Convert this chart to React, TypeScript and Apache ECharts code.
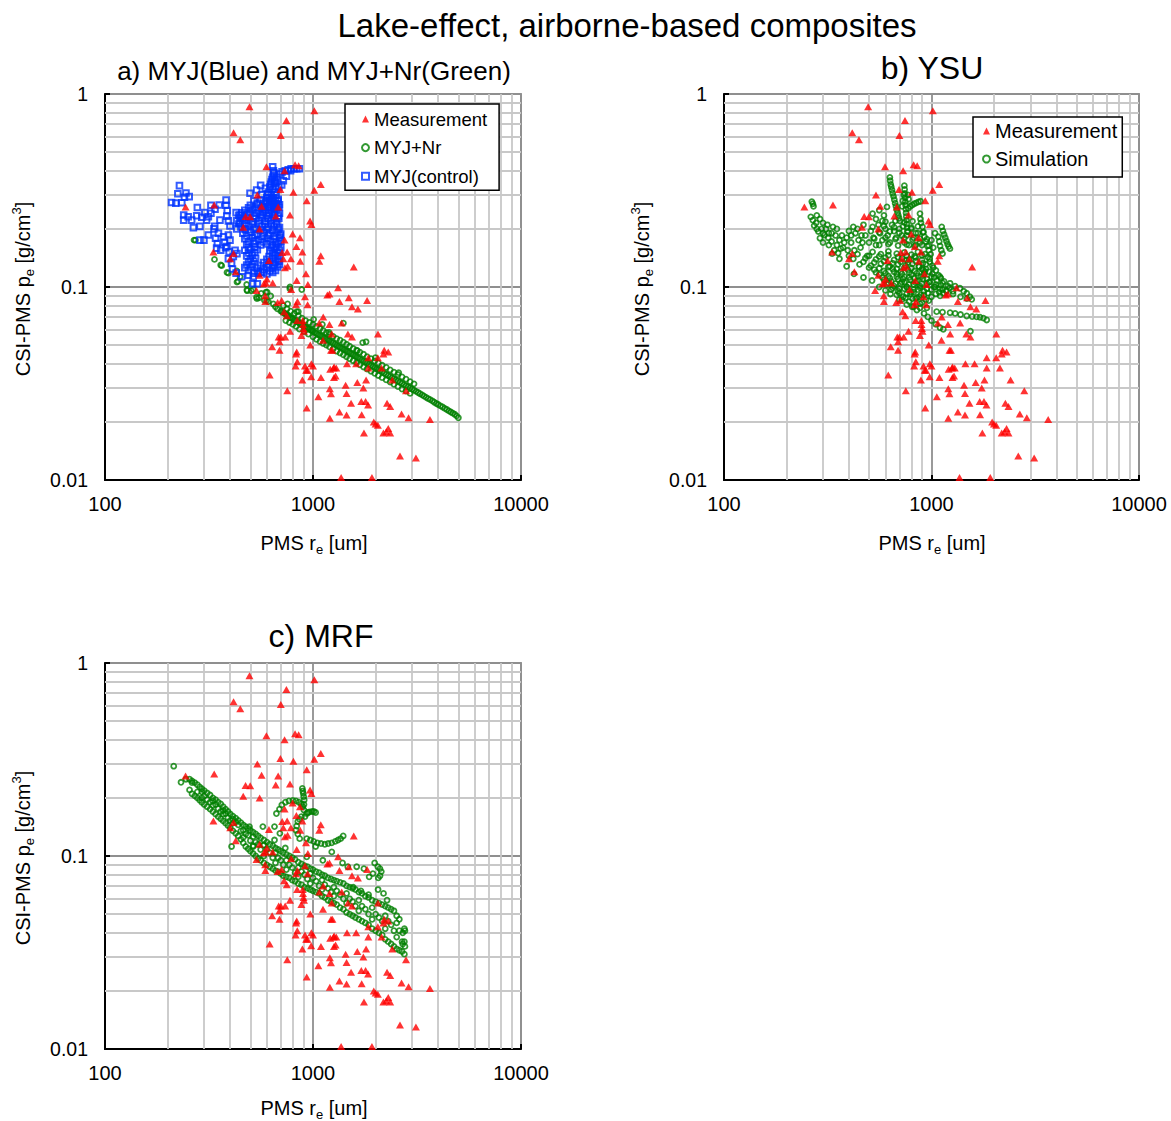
import React, { useEffect, useRef } from "react";
import * as echarts from "echarts";

const FONT = '"Liberation Sans", Arial, Helvetica, sans-serif';

// axis ticks / gridlines
const xMajor = [100, 1000, 10000];
const yMajor = [0.01, 0.1, 1];
const minorX = [200, 300, 400, 500, 600, 700, 800, 900, 2000, 3000, 4000, 5000, 6000, 7000, 8000, 9000];
const minorY = [0.02, 0.03, 0.04, 0.05, 0.06, 0.07, 0.08, 0.09, 0.2, 0.3, 0.4, 0.5, 0.6, 0.7, 0.8, 0.9];

// Measurement (same in all three panels)  [PMS re (um), CSI-PMS pe (g/cm3)]
const measurement: [number, number][] = [
  [495, 0.86], [1015, 0.82], [745, 0.73], [415, 0.63], [447, 0.58], [700, 0.61],
  [597, 0.42], [820, 0.43], [853, 0.425], [730, 0.4], [1090, 0.34], [697, 0.32], [805, 0.31], [1014, 0.317],
  [540, 0.3], [335, 0.266], [244, 0.26], [566, 0.262], [933, 0.28], [680, 0.26],
  [474, 0.232], [499, 0.231], [662, 0.233], [775, 0.236], [462, 0.204], [554, 0.2], [968, 0.22], [983, 0.211],
  [798, 0.188], [730, 0.175], [866, 0.18], [332, 0.152], [832, 0.162], [711, 0.151], [751, 0.152], [889, 0.152],
  [415, 0.149], [400, 0.14], [614, 0.137], [720, 0.14], [783, 0.14], [868, 0.136], [1090, 0.145], [1072, 0.136],
  [1570, 0.127], [733, 0.126], [755, 0.128], [554, 0.115], [925, 0.117], [425, 0.12], [600, 0.11], [835, 0.108],
  [945, 0.103], [594, 0.105], [640, 0.105], [580, 0.104], [785, 0.097], [535, 0.096], [589, 0.09], [590, 0.084],
  [1320, 0.099], [1172, 0.091], [1200, 0.092], [1486, 0.088], [1820, 0.085], [1340, 0.084], [1540, 0.079], [1644, 0.077],
  [829, 0.081], [942, 0.081], [676, 0.083], [707, 0.085], [915, 0.089], [842, 0.084],
  [726, 0.0745], [748, 0.071], [839, 0.067], [893, 0.067], [895, 0.064], [900, 0.061], [905, 0.059], [1120, 0.07], [1200, 0.064],
  [1072, 0.065], [1374, 0.065], [1230, 0.057], [1472, 0.057], [1540, 0.055], [2053, 0.057], [1117, 0.053],
  [775, 0.059], [684, 0.055], [700, 0.055], [735, 0.055], [690, 0.052], [879, 0.056],
  [636, 0.049], [690, 0.047], [970, 0.05], [1221, 0.047], [1240, 0.047],
  [829, 0.045], [835, 0.046], [840, 0.041], [825, 0.039], [915, 0.039], [927, 0.037], [940, 0.037], [982, 0.04], [1000, 0.039],
  [2180, 0.045], [2200, 0.047], [2300, 0.046], [2050, 0.043], [1845, 0.043], [1613, 0.04], [1457, 0.04], [1294, 0.038], [1255, 0.038], [1264, 0.0385],
  [1845, 0.038], [2137, 0.038], [889, 0.033], [980, 0.0343], [619, 0.035], [1092, 0.034], [1210, 0.0375], [1262, 0.034], [1284, 0.0346], [1800, 0.033], [2405, 0.033],
  [752, 0.029], [1205, 0.0297], [1435, 0.031], [1450, 0.0281], [1633, 0.032], [1746, 0.03], [2800, 0.029], [1220, 0.028],
  [1061, 0.027], [933, 0.0236], [1524, 0.025], [1707, 0.0255], [1790, 0.0255], [1840, 0.0245], [2270, 0.025], [2350, 0.024],
  [1340, 0.0225], [1450, 0.0217], [1714, 0.0218], [1205, 0.0209], [2665, 0.022], [2880, 0.021], [3650, 0.0206],
  [1960, 0.02], [2000, 0.0195], [2050, 0.0192], [2300, 0.0185], [2180, 0.0175], [2250, 0.0178], [2350, 0.0175], [1758, 0.0175],
  [2620, 0.0133], [3125, 0.013], [1365, 0.0103], [1920, 0.0103],
];

// Panel a: MYJ+Nr (green) — scattered upper part and outliers
const myjNrScatter: [number, number][] = [
  [268, 0.175], [272, 0.175], [336, 0.139], [360, 0.13], [364, 0.129], [386, 0.119], [392, 0.118], [430, 0.121], [446, 0.113],
  [431, 0.106], [436, 0.107], [480, 0.103], [481, 0.0965], [483, 0.0957], [505, 0.0957], [516, 0.0973], [535, 0.0885],
  [538, 0.087], [550, 0.088], [564, 0.0927], [584, 0.0853], [594, 0.094], [598, 0.085], [602, 0.094], [610, 0.084],
  [626, 0.0898], [645, 0.0817], [660, 0.079], [675, 0.077], [755, 0.0817], [775, 0.1], [774, 0.098], [883, 0.097], [835, 0.0745], [850, 0.0745],
  [1007, 0.068], [1109, 0.064], [1194, 0.0582], [1400, 0.065], [1733, 0.0515], [1800, 0.052], [1633, 0.0468], [1995, 0.043], [2583, 0.036],
];
// Panel a: MYJ+Nr (green) — main band
const myjNrBand: [number, number][] = [
  [700, 0.075], [720, 0.0737], [740, 0.0722], [760, 0.071], [780, 0.0695], [800, 0.0685], [830, 0.0667], [860, 0.065], [890, 0.0635],
  [920, 0.0622], [950, 0.061], [980, 0.0598], [1000, 0.059], [1040, 0.0575], [1080, 0.0562], [1120, 0.055], [1160, 0.0538], [1200, 0.0527],
  [1250, 0.0513], [1300, 0.05], [1350, 0.0488], [1400, 0.0477], [1450, 0.0467], [1500, 0.0457], [1560, 0.0446], [1620, 0.0435],
  [1680, 0.0425], [1750, 0.0414], [1820, 0.0404], [1900, 0.0393], [1980, 0.0383], [2060, 0.0374], [2150, 0.0364], [2250, 0.0353],
  [2350, 0.0344], [2450, 0.0335], [2560, 0.0326], [2680, 0.0317], [2800, 0.0308], [2930, 0.03], [3060, 0.0292], [3200, 0.0284],
  [3350, 0.0276], [3500, 0.0268], [3660, 0.0261], [3830, 0.0253], [4000, 0.0246], [4200, 0.0239], [4400, 0.0232], [4600, 0.0225],
  [4800, 0.0219], [5000, 0.021],
  [710, 0.0745], [730, 0.073], [750, 0.0716], [770, 0.0702], [790, 0.069], [815, 0.0676], [845, 0.0658], [875, 0.0642], [905, 0.0628],
  [935, 0.0616], [965, 0.0604], [990, 0.0594], [1020, 0.0582], [1060, 0.0568], [1100, 0.0556], [1140, 0.0544], [1180, 0.0532],
  [1225, 0.052], [1275, 0.0506], [1325, 0.0494], [1375, 0.0482], [1425, 0.0472], [1475, 0.0462], [1530, 0.0451], [1590, 0.044],
  [1650, 0.043], [1715, 0.0419], [1785, 0.0409], [1860, 0.0398], [1940, 0.0388], [2020, 0.0378], [2100, 0.0369], [2200, 0.0358],
  [2300, 0.0348], [2400, 0.0339], [2500, 0.033], [2620, 0.0321], [2740, 0.0312], [2860, 0.0304], [3000, 0.0296], [3130, 0.0288],
  [3270, 0.028], [3420, 0.0272], [3580, 0.0264], [3750, 0.0257], [3920, 0.0249], [4100, 0.0242], [4300, 0.0235], [4500, 0.0228],
  [4700, 0.0222], [4900, 0.0215],
  [720, 0.08], [780, 0.075], [850, 0.071], [920, 0.067], [1000, 0.064], [1080, 0.061], [1160, 0.058], [1250, 0.0555], [1350, 0.053],
  [1450, 0.0505], [1560, 0.048], [1680, 0.046], [1820, 0.0436], [1980, 0.0414], [2150, 0.0393], [2350, 0.0372], [2560, 0.0352],
  [2800, 0.0333], [3060, 0.0315],
  [750, 0.077], [815, 0.073], [885, 0.069], [960, 0.0655], [1040, 0.0625], [1120, 0.0595], [1200, 0.057], [1300, 0.054], [1400, 0.0518],
  [1500, 0.0493], [1620, 0.047], [1750, 0.0448], [1900, 0.0425], [2060, 0.0404], [2250, 0.0383], [2450, 0.0362], [2680, 0.0342], [2930, 0.0323],
  [740, 0.067], [800, 0.064], [860, 0.0605], [950, 0.057], [1040, 0.0535], [1120, 0.051], [1200, 0.049], [1300, 0.0465], [1400, 0.0445],
  [1500, 0.0425], [1620, 0.0405], [1750, 0.0385], [1900, 0.0366], [2060, 0.0348], [2250, 0.033], [2450, 0.0313], [2680, 0.0296], [2930, 0.0281],
  [770, 0.0655], [830, 0.0625], [905, 0.0588], [1000, 0.0552], [1080, 0.0522], [1160, 0.05], [1250, 0.0477], [1350, 0.0455], [1450, 0.0435],
  [1560, 0.0415], [1680, 0.0395], [1820, 0.0376], [1980, 0.0357], [2150, 0.0339], [2350, 0.0322], [2560, 0.0305], [2800, 0.0289],
];

// Panel a: MYJ(control) (blue) — left tail, spike and hook
const myjControlOuter: [number, number][] = [
  [209, 0.274], [219, 0.272], [228, 0.335], [224, 0.304], [234, 0.273], [241, 0.292], [245, 0.307], [254, 0.294], [239, 0.236],
  [251, 0.231], [239, 0.222], [261, 0.222], [266, 0.203], [278, 0.258], [276, 0.234], [292, 0.23], [286, 0.206], [302, 0.243],
  [314, 0.231], [323, 0.265], [338, 0.253], [354, 0.266], [323, 0.241], [308, 0.222], [337, 0.206], [357, 0.222], [382, 0.282],
  [382, 0.265], [387, 0.249], [385, 0.233], [392, 0.22], [399, 0.207], [427, 0.243], [446, 0.236], [286, 0.175], [299, 0.175],
  [314, 0.186], [334, 0.2], [351, 0.19], [340, 0.179], [347, 0.168], [344, 0.159], [360, 0.155], [392, 0.186], [399, 0.175],
  [385, 0.162], [422, 0.155], [431, 0.149], [414, 0.144], [406, 0.133], [410, 0.124], [427, 0.118], [454, 0.113], [489, 0.115],
  [516, 0.113], [546, 0.118], [577, 0.119], [513, 0.104], [540, 0.104], [371, 0.182], [376, 0.17], [380, 0.16], [395, 0.152],
  [392, 0.14], [460, 0.225], [445, 0.215], [470, 0.2], [430, 0.2],
  [640, 0.42], [645, 0.4], [650, 0.38], [640, 0.37], [655, 0.36], [630, 0.35], [650, 0.345], [660, 0.33], [620, 0.33], [640, 0.32],
  [655, 0.31], [610, 0.31], [630, 0.3], [665, 0.3], [600, 0.29], [645, 0.29], [620, 0.28], [660, 0.28], [590, 0.275], [635, 0.27],
  [670, 0.27], [575, 0.26], [610, 0.26], [650, 0.26], [670, 0.37], [690, 0.385], [710, 0.395], [735, 0.4], [760, 0.405], [785, 0.41],
  [810, 0.41], [835, 0.41], [860, 0.41], [707, 0.338], [720, 0.355], [745, 0.375], [780, 0.4], [685, 0.33], [498, 0.306], [536, 0.318],
  [560, 0.336], [590, 0.325], [566, 0.3], [625, 0.34], [660, 0.35], [648, 0.39], [635, 0.36], [605, 0.3], [615, 0.29], [655, 0.27],
  [630, 0.285], [680, 0.285],
];
// Panel a: MYJ(control) (blue) — dense blob
const myjControlBlob: [number, number][] = [
  [520, 0.28], [560, 0.283], [600, 0.278], [640, 0.282], [680, 0.279],
  [540, 0.272], [580, 0.27], [620, 0.273], [660, 0.271],
  [500, 0.265], [540, 0.268], [580, 0.263], [620, 0.266], [660, 0.264], [690, 0.267],
  [490, 0.257], [530, 0.258], [570, 0.256], [610, 0.258], [650, 0.256], [685, 0.258],
  [470, 0.25], [510, 0.253], [550, 0.248], [590, 0.251], [630, 0.249], [670, 0.252],
  [455, 0.242], [495, 0.243], [535, 0.241], [575, 0.243], [615, 0.241], [655, 0.243], [690, 0.241],
  [440, 0.235], [480, 0.237], [520, 0.233], [560, 0.236], [600, 0.234], [640, 0.237], [680, 0.233],
  [450, 0.228], [490, 0.229], [530, 0.227], [570, 0.229], [610, 0.227], [650, 0.229], [685, 0.227],
  [430, 0.22], [470, 0.222], [510, 0.218], [550, 0.221], [590, 0.219], [630, 0.222], [665, 0.218],
  [440, 0.212], [470, 0.213], [510, 0.211], [550, 0.213], [590, 0.211], [630, 0.213], [670, 0.211],
  [450, 0.205], [490, 0.207], [530, 0.203], [570, 0.206], [610, 0.204], [650, 0.207], [690, 0.203],
  [475, 0.198], [520, 0.199], [560, 0.197], [600, 0.199], [640, 0.197], [680, 0.199],
  [460, 0.19], [500, 0.192], [540, 0.188], [580, 0.191], [620, 0.189], [670, 0.192], [700, 0.188],
  [480, 0.184], [525, 0.185], [570, 0.183], [610, 0.185], [650, 0.183], [695, 0.185],
  [470, 0.178], [510, 0.18], [550, 0.176], [600, 0.179], [650, 0.177], [690, 0.18],
  [490, 0.172], [530, 0.173], [575, 0.171], [625, 0.173], [665, 0.171], [700, 0.173],
  [480, 0.166], [520, 0.168], [560, 0.165], [600, 0.167], [640, 0.165], [680, 0.168],
  [490, 0.16], [525, 0.161], [630, 0.16], [665, 0.161], [700, 0.16],
  [470, 0.155], [500, 0.157], [540, 0.156], [620, 0.154], [650, 0.157], [690, 0.155],
  [490, 0.15], [525, 0.151], [640, 0.15], [675, 0.151],
  [480, 0.145], [510, 0.146], [615, 0.144], [660, 0.146], [690, 0.144],
  [500, 0.14], [530, 0.141], [600, 0.139], [640, 0.141], [675, 0.139],
  [490, 0.135], [520, 0.136], [580, 0.134], [620, 0.136], [660, 0.134], [685, 0.136],
  [480, 0.13], [510, 0.131], [560, 0.129], [610, 0.131], [650, 0.129], [690, 0.131],
  [470, 0.126], [500, 0.127], [540, 0.125], [600, 0.127], [640, 0.125], [675, 0.127],
  [490, 0.122], [540, 0.121], [580, 0.123], [620, 0.121], [660, 0.122],
  [520, 0.118], [560, 0.119], [600, 0.117], [640, 0.119],
];

// Panel b: YSU simulation (green) — outer streaks
const ysuStreaks: [number, number][] = [
  [265, 0.277], [268, 0.27], [270, 0.262], [262, 0.231], [268, 0.222], [272, 0.208], [278, 0.215], [285, 0.194], [290, 0.179], [295, 0.2],
  [300, 0.215], [310, 0.2], [305, 0.186], [318, 0.18], [320, 0.19], [320, 0.165], [335, 0.205], [330, 0.172], [345, 0.185], [350, 0.165],
  [360, 0.175], [365, 0.158], [375, 0.16], [390, 0.18], [400, 0.195], [410, 0.17], [420, 0.205], [425, 0.155], [430, 0.19], [440, 0.148],
  [445, 0.175], [455, 0.16], [470, 0.21], [480, 0.185], [490, 0.145], [500, 0.17], [510, 0.195], [525, 0.18], [540, 0.165], [555, 0.21],
  [565, 0.19], [580, 0.175], [600, 0.2], [615, 0.185], [630, 0.17], [645, 0.21], [660, 0.195], [675, 0.18], [700, 0.2], [720, 0.185],
  [740, 0.17], [760, 0.185], [780, 0.165], [800, 0.2], [820, 0.18], [840, 0.165], [860, 0.19], [880, 0.17], [1000, 0.175], [1040, 0.19], [1020, 0.16],
  [280, 0.2], [300, 0.19], [315, 0.21], [330, 0.19], [350, 0.2], [370, 0.185], [380, 0.17], [395, 0.155], [410, 0.185], [440, 0.2],
  [460, 0.185], [465, 0.17], [280, 0.235], [290, 0.225], [300, 0.17], [340, 0.155], [355, 0.15], [400, 0.145], [420, 0.14],
  [520, 0.24], [560, 0.25], [590, 0.235], [610, 0.26], [580, 0.22], [540, 0.225], [880, 0.24], [885, 0.225], [890, 0.215],
  [735, 0.3], [728, 0.28], [722, 0.262], [770, 0.3], [775, 0.285],
  [630, 0.37], [632, 0.355], [636, 0.34], [640, 0.33], [645, 0.318], [650, 0.306], [656, 0.295], [662, 0.283], [668, 0.272], [674, 0.262],
  [680, 0.252], [686, 0.243], [692, 0.235], [698, 0.227], [704, 0.22],
  [740, 0.335], [742, 0.32], [744, 0.305], [746, 0.29], [748, 0.277], [750, 0.265], [752, 0.253], [754, 0.242], [756, 0.232], [758, 0.222],
  [760, 0.212], [762, 0.203], [764, 0.194],
  [773, 0.256], [790, 0.262], [808, 0.266], [826, 0.27], [845, 0.273], [865, 0.276], [885, 0.278],
  [1120, 0.205], [1135, 0.195], [1150, 0.187], [1165, 0.18], [1180, 0.173], [1195, 0.167], [1210, 0.162], [1227, 0.158],
  [1079, 0.182], [1090, 0.172], [1100, 0.163], [1115, 0.155], [1130, 0.149],
  [905, 0.205], [915, 0.193], [925, 0.182], [940, 0.172], [955, 0.163], [970, 0.155], [990, 0.148],
  [332, 0.149], [360, 0.14], [390, 0.128], [423, 0.117], [470, 0.112], [517, 0.108], [560, 0.1], [600, 0.096], [634, 0.092], [700, 0.086],
  [807, 0.079], [850, 0.076],
  [1059, 0.0745], [1130, 0.074], [1229, 0.0736], [1300, 0.073], [1380, 0.072], [1478, 0.0708], [1570, 0.0703], [1650, 0.07], [1713, 0.0697],
  [1780, 0.069], [1845, 0.0675],
  [1229, 0.1045], [1300, 0.101], [1372, 0.0985], [1430, 0.095], [1478, 0.0928], [1530, 0.089], [1563, 0.0863],
  [759, 0.138], [913, 0.1225], [1099, 0.113], [1099, 0.098], [1180, 0.095], [1270, 0.092], [1380, 0.089], [1480, 0.087],
  [880, 0.078], [920, 0.073], [960, 0.07], [1000, 0.067], [1050, 0.064], [1100, 0.0615], [1140, 0.0604], [1540, 0.059],
];
// Panel b: YSU simulation (green) — dense core
const ysuCore: [number, number][] = [
  [600, 0.218], [670, 0.22], [740, 0.216], [810, 0.219],
  [520, 0.205], [590, 0.207], [660, 0.204], [730, 0.206], [800, 0.203], [860, 0.206],
  [560, 0.192], [630, 0.194], [700, 0.191], [770, 0.193], [840, 0.19], [910, 0.192],
  [530, 0.178], [600, 0.18], [670, 0.177], [740, 0.179], [810, 0.176], [880, 0.178], [950, 0.177],
  [560, 0.165], [620, 0.167], [690, 0.164], [760, 0.166], [830, 0.163], [900, 0.165], [970, 0.164],
  [520, 0.152], [570, 0.148], [620, 0.153], [680, 0.149], [740, 0.151], [800, 0.147], [860, 0.152], [930, 0.148],
  [500, 0.145], [560, 0.144], [620, 0.146], [690, 0.143], [760, 0.145], [830, 0.144], [900, 0.146], [960, 0.143],
  [480, 0.141], [540, 0.139], [600, 0.142], [660, 0.138], [720, 0.141], [780, 0.139], [840, 0.142], [900, 0.138], [980, 0.14],
  [470, 0.135], [530, 0.134], [590, 0.136], [650, 0.133], [710, 0.135], [770, 0.134], [840, 0.136], [910, 0.133], [980, 0.135],
  [450, 0.131], [510, 0.129], [570, 0.132], [630, 0.128], [690, 0.131], [750, 0.129], [810, 0.132], [870, 0.128], [940, 0.131], [1010, 0.129],
  [500, 0.126], [560, 0.125], [620, 0.127], [680, 0.124], [740, 0.126], [800, 0.125], [870, 0.127], [940, 0.124], [1020, 0.126],
  [530, 0.123], [590, 0.121], [650, 0.124], [710, 0.12], [770, 0.123], [830, 0.121], [900, 0.124], [970, 0.12], [1050, 0.122],
  [540, 0.119], [600, 0.118], [660, 0.12], [720, 0.117], [780, 0.119], [850, 0.118], [930, 0.12], [1010, 0.117],
  [560, 0.116], [620, 0.114], [680, 0.117], [740, 0.113], [800, 0.116], [860, 0.114], [920, 0.117], [1000, 0.113], [1080, 0.115],
  [580, 0.112], [630, 0.111], [680, 0.113], [730, 0.11], [780, 0.112], [830, 0.111], [890, 0.113], [950, 0.11], [1030, 0.112], [1110, 0.111],
  [590, 0.109], [640, 0.107], [690, 0.11], [740, 0.106], [790, 0.109], [850, 0.107], [910, 0.11], [980, 0.106], [1060, 0.108], [1150, 0.107],
  [620, 0.105], [670, 0.104], [720, 0.106], [780, 0.103], [840, 0.105], [900, 0.104], [970, 0.106], [1050, 0.103], [1130, 0.105],
  [610, 0.103], [660, 0.101], [710, 0.104], [760, 0.1], [820, 0.103], [880, 0.101], [950, 0.104], [1030, 0.1], [1110, 0.102], [1200, 0.101],
  [650, 0.099], [700, 0.098], [760, 0.1], [820, 0.097], [880, 0.099], [950, 0.098], [1040, 0.1], [1130, 0.097], [1220, 0.099],
  [640, 0.097], [690, 0.095], [740, 0.098], [800, 0.094], [860, 0.097], [920, 0.095], [1000, 0.097], [1090, 0.094], [1180, 0.096], [1270, 0.095],
  [700, 0.093], [760, 0.092], [820, 0.094], [890, 0.091], [960, 0.093], [1050, 0.092], [1140, 0.093],
  [680, 0.091], [730, 0.089], [790, 0.092], [850, 0.088], [920, 0.091], [1000, 0.089], [1100, 0.09],
  [750, 0.088], [810, 0.087], [870, 0.089], [940, 0.086],
  [720, 0.086], [780, 0.084], [840, 0.087], [900, 0.083], [970, 0.085],
  [760, 0.081], [820, 0.079], [880, 0.082], [950, 0.078],
];

// Panel c: MRF simulation (green) — main band
const mrfBand: [number, number][] = [
  [255, 0.25], [270, 0.24], [285, 0.228], [300, 0.218], [320, 0.207], [340, 0.196], [360, 0.186], [380, 0.175], [400, 0.165], [425, 0.157],
  [450, 0.149], [475, 0.142], [500, 0.136], [530, 0.13], [560, 0.124], [600, 0.118], [640, 0.113], [680, 0.108], [720, 0.104], [770, 0.1],
  [820, 0.096], [880, 0.091], [940, 0.088], [1000, 0.085], [1070, 0.082], [1140, 0.079], [1220, 0.076], [1300, 0.074], [1400, 0.072],
  [1500, 0.069], [1600, 0.067], [1720, 0.064], [1850, 0.061], [2000, 0.058], [2150, 0.056], [2300, 0.054], [2450, 0.052], [2600, 0.047], [2750, 0.042],
  [262, 0.245], [278, 0.234], [292, 0.223], [310, 0.212], [330, 0.2], [350, 0.19], [370, 0.18], [390, 0.17], [412, 0.161], [437, 0.153],
  [462, 0.145], [488, 0.139], [515, 0.133], [545, 0.127], [580, 0.121], [620, 0.115], [660, 0.11], [700, 0.106], [745, 0.102], [795, 0.098],
  [850, 0.093], [910, 0.089], [970, 0.086], [1035, 0.083], [1105, 0.08], [1180, 0.077], [1260, 0.075], [1350, 0.073], [1450, 0.07],
  [1550, 0.068], [1660, 0.065], [1785, 0.062], [1925, 0.059], [2075, 0.057], [2225, 0.055], [2375, 0.053], [2525, 0.049],
  [262, 0.24], [292, 0.215], [330, 0.193], [370, 0.172], [412, 0.155], [462, 0.136], [515, 0.126], [580, 0.114], [660, 0.104], [745, 0.095],
  [850, 0.087], [970, 0.081], [1105, 0.075], [1260, 0.069], [1450, 0.064], [1660, 0.059], [1925, 0.054], [2225, 0.049], [2525, 0.045], [2700, 0.04],
  [300, 0.205], [340, 0.185], [380, 0.166], [425, 0.15], [475, 0.13], [530, 0.118], [600, 0.108], [680, 0.098], [770, 0.09], [880, 0.083],
  [1000, 0.077], [1140, 0.071], [1300, 0.066], [1500, 0.06], [1720, 0.055], [2000, 0.05], [2300, 0.046], [2600, 0.041],
  [278, 0.215], [310, 0.196], [350, 0.176], [390, 0.158], [437, 0.145], [488, 0.128], [545, 0.115], [620, 0.104], [700, 0.095], [795, 0.087],
  [910, 0.08], [1035, 0.074], [1180, 0.068], [1350, 0.063], [1550, 0.058], [1785, 0.053], [2075, 0.048], [2375, 0.044], [2680, 0.036],
  [320, 0.19], [360, 0.17], [400, 0.153], [450, 0.135], [500, 0.12], [560, 0.108], [640, 0.098], [720, 0.09], [820, 0.082], [940, 0.076],
  [1070, 0.07], [1220, 0.065], [1400, 0.06], [1600, 0.055], [1850, 0.05], [2150, 0.046], [2450, 0.041], [2750, 0.036],
  [292, 0.2], [330, 0.183], [370, 0.165], [412, 0.148], [462, 0.125], [515, 0.113], [580, 0.1], [660, 0.092], [745, 0.085], [850, 0.078],
  [970, 0.072], [1105, 0.067], [1260, 0.062], [1450, 0.057], [1660, 0.052], [1925, 0.047], [2225, 0.042], [2525, 0.038], [2700, 0.035],
  [262, 0.21], [278, 0.2], [292, 0.19], [310, 0.18], [330, 0.17], [350, 0.16], [370, 0.152], [390, 0.144], [412, 0.135], [437, 0.127],
  [462, 0.117], [488, 0.109], [515, 0.103], [545, 0.097], [580, 0.092], [620, 0.088], [660, 0.084], [700, 0.081], [745, 0.078], [795, 0.075],
  [850, 0.072], [910, 0.069], [970, 0.067], [1035, 0.065], [1105, 0.062], [1180, 0.059], [1260, 0.057], [1350, 0.054], [1450, 0.051],
  [1550, 0.049], [1660, 0.047], [1785, 0.045], [1925, 0.042], [2075, 0.04], [2225, 0.037], [2375, 0.035], [2525, 0.033], [2680, 0.032],
  [255, 0.22], [270, 0.205], [285, 0.195], [300, 0.185], [320, 0.175], [340, 0.165], [360, 0.156], [380, 0.148], [400, 0.14], [425, 0.131],
  [450, 0.122], [475, 0.112], [500, 0.106], [530, 0.1], [560, 0.095], [600, 0.09], [640, 0.086], [680, 0.083], [720, 0.079], [770, 0.077],
  [820, 0.074], [880, 0.071], [940, 0.068], [1000, 0.066], [1070, 0.064], [1140, 0.061], [1220, 0.058], [1300, 0.056], [1400, 0.053],
  [1500, 0.05], [1600, 0.048], [1720, 0.046], [1850, 0.044], [2000, 0.041], [2150, 0.039], [2300, 0.036], [2450, 0.034], [2600, 0.0325], [2750, 0.031],
];
// Panel c: MRF simulation (green) — loops, hooks and scatter
const mrfScatter: [number, number][] = [
  [667, 0.166], [708, 0.184], [766, 0.193], [828, 0.193], [879, 0.186], [904, 0.173], [879, 0.16], [845, 0.151], [828, 0.136], [863, 0.123],
  [737, 0.19], [690, 0.175], [800, 0.194], [855, 0.19], [893, 0.18], [862, 0.155], [835, 0.143], [845, 0.13],
  [889, 0.224], [893, 0.217], [898, 0.211], [902, 0.203], [907, 0.195], [905, 0.185],
  [933, 0.166], [960, 0.169], [990, 0.17], [1030, 0.168], [915, 0.16], [945, 0.168], [1010, 0.17],
  [933, 0.123], [1008, 0.119], [1093, 0.116], [1183, 0.116], [1279, 0.119], [1358, 0.123], [1397, 0.127], [970, 0.121], [1050, 0.117],
  [1140, 0.115], [1230, 0.117], [1320, 0.121],
  [495, 0.142], [574, 0.142], [653, 0.142], [693, 0.131], [653, 0.121], [581, 0.114], [516, 0.112], [406, 0.112], [736, 0.11], [933, 0.099],
  [1030, 0.112], [1115, 0.095], [1231, 0.105], [1387, 0.092], [1470, 0.088], [1622, 0.088], [1757, 0.086], [1941, 0.081], [1979, 0.092],
  [2050, 0.088], [2098, 0.086], [2130, 0.083], [2100, 0.079], [2060, 0.077], [1862, 0.078], [2055, 0.067], [2183, 0.064], [2270, 0.059],
  [1560, 0.069], [1700, 0.066], [1850, 0.063], [2767, 0.041], [2767, 0.034], [214, 0.292], [232, 0.241], [245, 0.25],
];

const grids = [
  { left: 105, top: 94, width: 416, height: 386 },
  { left: 724, top: 94, width: 415, height: 386 },
  { left: 105, top: 663, width: 416, height: 386 },
];

const tickFmt = (v: number) => (v >= 1 ? String(Math.round(v)) : String(Number(v.toPrecision(1))));

const RED = "#ff0000";
const GREEN = "#008000";
const BLUE = "#0033ff";

function minorLines() {
  return {
    silent: true,
    z: 1,
    animation: false,
    symbol: ["none", "none"],
    label: { show: false },
    emphasis: { disabled: true },
    lineStyle: { color: "#c8c8c8", width: 1.8, type: "solid" },
    data: [...minorX.map((v) => ({ xAxis: v })), ...minorY.map((v) => ({ yAxis: v }))],
  };
}

function greenSeries(name: string, data: [number, number][], gi: number) {
  return {
    name,
    type: "scatter",
    xAxisIndex: gi,
    yAxisIndex: gi,
    data,
    symbol: "circle",
    symbolSize: 5,
    itemStyle: { color: "rgba(0,0,0,0)", borderColor: GREEN, borderWidth: 1.8 },
    markLine: minorLines(),
    z: 2,
  };
}

function measSeries(gi: number) {
  return {
    name: "Measurement",
    type: "scatter",
    xAxisIndex: gi,
    yAxisIndex: gi,
    data: measurement,
    symbol: "triangle",
    symbolSize: [8, 7],
    itemStyle: { color: RED },
    z: 4,
  };
}

function buildOption() {
  const xAxis = grids.map((_, i) => ({
    type: "log",
    logBase: 10,
    gridIndex: i,
    min: xMajor[0],
    max: xMajor[2],
    axisLine: { show: true, onZero: false, lineStyle: { color: "#000", width: 2 } },
    axisTick: { show: true, inside: true, length: 5, lineStyle: { color: "#000", width: 2 } },
    axisLabel: { color: "#000", fontSize: 20, fontFamily: FONT, margin: 14, formatter: tickFmt },
    splitLine: { show: true, lineStyle: { color: "#8f8f8f", width: 1.8 } },
  }));
  const yAxis = grids.map((_, i) => ({
    type: "log",
    logBase: 10,
    gridIndex: i,
    min: yMajor[0],
    max: yMajor[2],
    axisLine: { show: true, onZero: false, lineStyle: { color: "#000", width: 2 } },
    axisTick: { show: true, inside: true, length: 5, lineStyle: { color: "#000", width: 2 } },
    axisLabel: { color: "#000", fontSize: 19.5, fontFamily: FONT, margin: 17, formatter: tickFmt },
    splitLine: { show: true, lineStyle: { color: "#8f8f8f", width: 1.8 } },
  }));

  const series: any[] = [
    greenSeries("MYJ+Nr", [...myjNrScatter, ...myjNrBand], 0),
    {
      name: "MYJ(control)",
      type: "scatter",
      xAxisIndex: 0,
      yAxisIndex: 0,
      data: [...myjControlOuter, ...myjControlBlob],
      symbol: "rect",
      symbolSize: 5.6,
      itemStyle: { color: "rgba(0,0,0,0)", borderColor: BLUE, borderWidth: 2 },
      z: 3,
    },
    measSeries(0),
    greenSeries("Simulation", [...ysuStreaks, ...ysuCore], 1),
    measSeries(1),
    greenSeries("Simulation", [...mrfBand, ...mrfScatter], 2),
    measSeries(2),
  ];

  const richAxis = {
    a: { fontSize: 20, fontFamily: FONT, lineHeight: 26, fill: "#000", color: "#000" },
    b: { fontSize: 13, fontFamily: FONT, lineHeight: 14, verticalAlign: "bottom", fill: "#000", color: "#000" },
    c: { fontSize: 13, fontFamily: FONT, lineHeight: 14, verticalAlign: "top", fill: "#000", color: "#000" },
  };
  const yName = "{a|CSI-PMS p}{b|e}{a| [g/cm}{c|3}{a|]}";
  const xName = "{a|PMS r}{b|e}{a| [um]}";

  const txt = (x: number, y: number, text: string, size: number) => ({
    type: "text",
    x,
    y,
    silent: true,
    style: { text, fontSize: size, fontFamily: FONT, fill: "#000", align: "center", verticalAlign: "middle" },
  });
  const rich = (x: number, y: number, text: string, rot: number) => ({
    type: "text",
    x,
    y,
    rotation: rot,
    silent: true,
    style: { text, rich: richAxis, fontSize: 20, fontFamily: FONT, fill: "#000", align: "center", verticalAlign: "middle" },
  });

  const graphic = [
    txt(627, 25, "Lake-effect, airborne-based composites", 33),
    txt(314, 71, "a) MYJ(Blue) and MYJ+Nr(Green)", 26),
    txt(932, 68, "b) YSU", 32),
    txt(321, 636, "c) MRF", 32),
    rich(23, 289, yName, Math.PI / 2),
    rich(642, 289, yName, Math.PI / 2),
    rich(23, 858, yName, Math.PI / 2),
    rich(314, 543, xName, 0),
    rich(932, 543, xName, 0),
    rich(314, 1108, xName, 0),
  ];

  return {
    animation: false,
    backgroundColor: "#fff",
    textStyle: { fontFamily: FONT },
    grid: grids.map((g) => ({ ...g, show: true, borderColor: "#9a9a9a", borderWidth: 2, backgroundColor: "transparent" })),
    xAxis,
    yAxis,
    legend: [
      {
        left: 345,
        top: 104,
        orient: "vertical",
        data: [
          { name: "Measurement", icon: "triangle" },
          { name: "MYJ+Nr", icon: "circle" },
          { name: "MYJ(control)", icon: "rect" },
        ],
        borderColor: "#000",
        borderWidth: 1.5,
        backgroundColor: "#fff",
        padding: [4, 12, 3, 16],
        itemWidth: 7,
        itemHeight: 7,
        itemGap: 6.6,
        selectedMode: false,
        textStyle: { fontSize: 18.5, lineHeight: 22, fontFamily: FONT, color: "#000" },
      },
      {
        left: 973,
        top: 117,
        orient: "vertical",
        data: [
          { name: "Measurement", icon: "triangle" },
          { name: "Simulation", icon: "circle" },
        ],
        borderColor: "#000",
        borderWidth: 1.5,
        backgroundColor: "#fff",
        padding: [3, 5, 7, 9],
        itemWidth: 7,
        itemHeight: 7,
        itemGap: 6,
        selectedMode: false,
        textStyle: { fontSize: 20, lineHeight: 22, fontFamily: FONT, color: "#000" },
      },
    ],
    series,
    graphic,
  };
}

export default function App() {
  const ref = useRef<HTMLDivElement>(null);
  useEffect(() => {
    document.body.style.margin = "0";
    if (!ref.current) return;
    const chart = echarts.init(ref.current, undefined, { renderer: "svg" });
    chart.setOption(buildOption() as any);
    return () => {
      chart.dispose();
    };
  }, []);
  return <div ref={ref} style={{ width: 1171, height: 1121 }} />;
}
